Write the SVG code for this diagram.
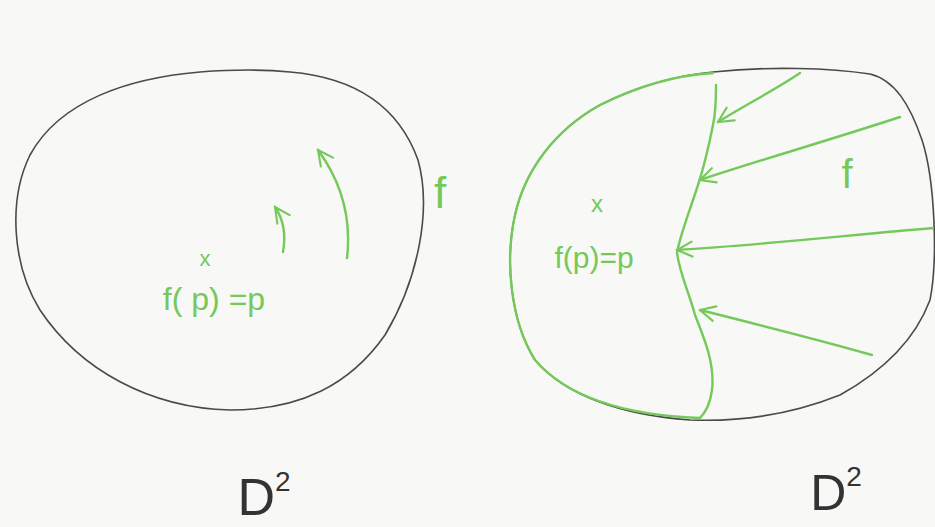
<svg xmlns="http://www.w3.org/2000/svg" width="935" height="527" viewBox="0 0 935 527">
<style>
.disk{fill:none;stroke:#4a4a4a;stroke-width:1.6;stroke-linecap:round;stroke-linejoin:round}
.g{fill:none;stroke:#74c95a;stroke-width:2.4;stroke-linecap:round;stroke-linejoin:round}
.gt{fill:#74c95a;font-family:"Liberation Sans",sans-serif}
.bt{fill:#333;font-family:"Liberation Sans",sans-serif}
</style>
<defs>
<marker id="ah2" viewBox="0 0 12 12" refX="11" refY="6" markerWidth="18" markerHeight="18" orient="auto" markerUnits="userSpaceOnUse">
<path d="M1,1 L11,6 L1,11" fill="none" stroke="#74c95a" stroke-width="1.4" stroke-linecap="round"/>
</marker>
</defs>
<rect width="935" height="527" fill="#f8f8f6"/>

<g id="left-disk">
<path class="disk" d="M290,72 C360,78 400,110 418,160 C432,210 418,280 385,335 C350,385 300,410 230,410 C150,408 80,370 40,310 C12,265 8,200 30,155 C60,100 130,78 200,72 C240,69 270,70 290,72 Z"/>
<text class="gt" x="205" y="266" font-size="22" text-anchor="middle">x</text>
<text class="gt" x="214" y="310" font-size="32" text-anchor="middle">f( p) =p</text>
<path class="g" d="M283,252 C286,235 284,220 275,207" marker-end="url(#ah2)"/>
<path class="g" d="M347,258 C352,215 340,180 318,150" marker-end="url(#ah2)" stroke-width="3"/>
<text class="gt" x="440" y="208" font-size="44" text-anchor="middle">f</text>
<text class="bt" x="264" y="515" font-size="52" text-anchor="middle">D<tspan font-size="28" dy="-24">2</tspan></text>
</g>

<g id="right-disk">
<path class="disk" d="M713,72 C770,66 830,68 870,74 C895,80 910,105 922,140 C935,180 938,260 930,300 C915,340 885,370 840,395 C790,415 740,422 690,420 C620,415 565,395 535,360 C510,320 505,260 515,215 C525,170 555,130 600,105 C640,85 680,75 713,72 Z"/>
<path class="g" d="M713,73 C680,75 640,85 600,105 C555,130 525,170 515,215 C505,260 510,320 535,360 C565,395 620,415 700,418" stroke-width="1.8"/>
<path class="g" d="M716,85 C716,100 716,112 713,125 C708,150 703,170 698,185 C690,210 680,235 677,253 C680,275 690,295 695,315 C705,340 715,365 712,390 C710,405 705,413 700,418" stroke-width="2"/>
<text class="gt" x="597" y="212" font-size="24" text-anchor="middle">x</text>
<text class="gt" x="594" y="268" font-size="30" text-anchor="middle">f(p)=p</text>
<text class="gt" x="847" y="188" font-size="40" text-anchor="middle">f</text>
<path class="g" d="M800,73 C775,90 745,105 718,122" marker-end="url(#ah2)" stroke-width="2"/>
<path class="g" d="M900,117 C830,140 760,160 700,180" marker-end="url(#ah2)" stroke-width="2"/>
<path class="g" d="M933,228 C850,235 760,245 677,250" marker-end="url(#ah2)" stroke-width="2"/>
<path class="g" d="M872,355 C820,340 760,325 700,310" marker-end="url(#ah2)" stroke-width="2"/>
<text class="bt" x="836" y="510" font-size="50" text-anchor="middle">D<tspan font-size="28" dy="-24">2</tspan></text>
</g>
</svg>
